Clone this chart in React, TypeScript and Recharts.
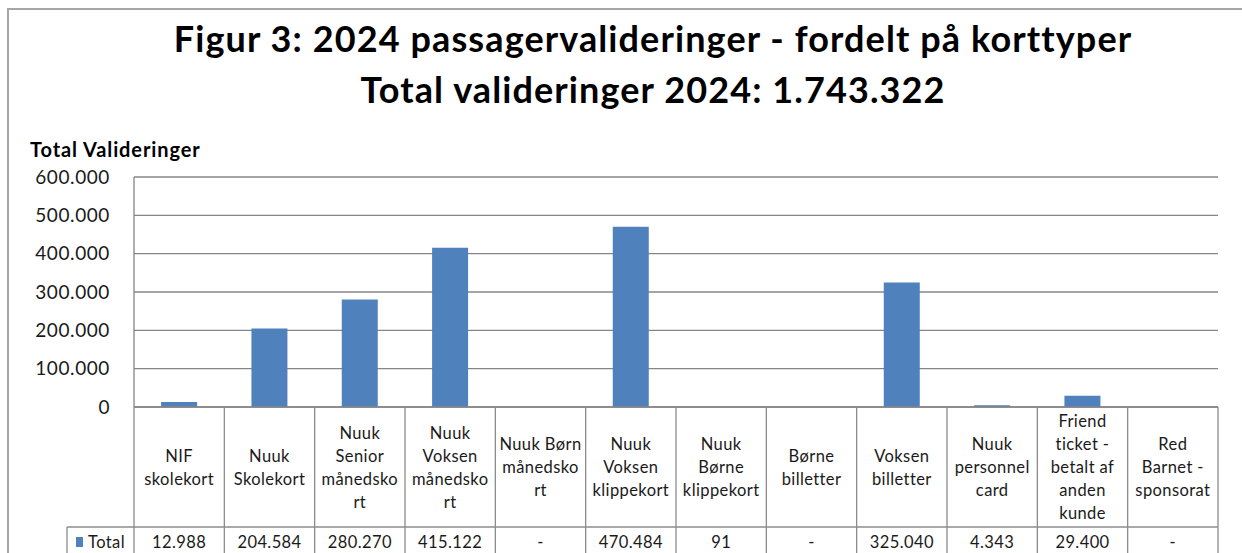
import { BarChart, Bar, XAxis, YAxis, CartesianGrid } from "recharts";

// Kort-typer (linjeskift som i tabellen)
const categoryLines: string[][] = [
  ["NIF", "skolekort"],
  ["Nuuk", "Skolekort"],
  ["Nuuk", "Senior", "månedsko", "rt"],
  ["Nuuk", "Voksen", "månedsko", "rt"],
  ["Nuuk Børn", "månedsko", "rt"],
  ["Nuuk", "Voksen", "klippekort"],
  ["Nuuk", "Børne", "klippekort"],
  ["Børne", "billetter"],
  ["Voksen", "billetter"],
  ["Nuuk", "personnel", "card"],
  ["Friend", "ticket -", "betalt af", "anden", "kunde"],
  ["Red", "Barnet -", "sponsorat"],
];

// Valideringer 2024 (null = "-")
const totals: (number | null)[] = [
  12988, 204584, 280270, 415122, null, 470484, 91, null, 325040, 4343, 29400, null,
];

const yTicks = [0, 100000, 200000, 300000, 400000, 500000, 600000];

const titleLines = [
  "Figur 3: 2024 passagervalideringer - fordelt på korttyper",
  "Total valideringer 2024: 1.743.322",
];
const yTitle = "Total Valideringer";
const seriesName = "Total";

const data = categoryLines.map((lines, i) => ({
  name: lines.join(" "),
  lines,
  total: totals[i],
}));

const W = 1242;
const H = 553;
const FONT = "Lato, 'Open Sans', sans-serif";
const BLUE = "#4F81BD";
const GRID = "#868686";
const TABLE = "#8c8c8c";
const TEXT = "#1a1a1a";
const LEGEND_W = 67;
const HEADER_H = 120;

function fmt(v: number | null): string {
  if (v === null || v === undefined) return "-";
  return String(v).replace(/\B(?=(\d{3})+(?!\d))/g, ".");
}

function TableTick(props: any) {
  const { x, y, payload, index, visibleTicksCount } = props;
  const band = payload.offset ? payload.offset * 2 : 1084 / categoryLines.length;
  const left = x - band / 2;
  const right = x + band / 2;
  const row = data[index];
  const lines = row ? row.lines : [];
  const lh = 23;
  const cy = y + HEADER_H / 2;
  const startY = cy - ((lines.length - 1) * lh) / 2;
  const isLast = index === (visibleTicksCount ?? categoryLines.length) - 1;
  const txt = { fontSize: 16.5, fontFamily: FONT, fill: TEXT, letterSpacing: 0.4 };
  return (
    <g>
      <line x1={left} y1={y} x2={left} y2={H + 20} stroke={TABLE} strokeWidth={1.3} />
      {isLast && <line x1={right} y1={y} x2={right} y2={H + 20} stroke={TABLE} strokeWidth={1.3} />}
      <line x1={left} y1={y + HEADER_H} x2={right} y2={y + HEADER_H} stroke={TABLE} strokeWidth={1.3} />
      {lines.map((l: string, i: number) => (
        <text key={i} x={x} y={startY + i * lh + 6} textAnchor="middle" {...txt}>
          {l}
        </text>
      ))}
      <text x={x} y={y + HEADER_H + 21} textAnchor="middle" {...txt}>
        {row ? fmt(row.total) : ""}
      </text>
      {index === 0 && (
        <g>
          <line x1={left - LEGEND_W} y1={y + HEADER_H} x2={left} y2={y + HEADER_H} stroke={TABLE} strokeWidth={1.3} />
          <line x1={left - LEGEND_W} y1={y + HEADER_H} x2={left - LEGEND_W} y2={H + 20} stroke={TABLE} strokeWidth={1.3} />
          <rect x={left - LEGEND_W + 9} y={y + HEADER_H + 10} width={7} height={10} fill={BLUE} />
          <text x={left - LEGEND_W + 21} y={y + HEADER_H + 21} {...txt}>
            {seriesName}
          </text>
        </g>
      )}
    </g>
  );
}

export default function App() {
  return (
    <div style={{ width: W, height: H, position: "relative", overflow: "hidden", background: "#fff" }}>
      <style>{"body{margin:0}"}</style>
      {/* ramme */}
      <div
        style={{
          position: "absolute",
          left: 7,
          top: 8,
          width: W + 20,
          height: H + 20,
          border: "2px solid #a6a6a6",
        }}
      />
      <div
        style={{
          position: "absolute",
          left: 0,
          width: 1306,
          top: 13,
          textAlign: "center",
          fontFamily: FONT,
          fontWeight: 700,
          fontSize: 36,
          letterSpacing: 1.1,
          lineHeight: "51px",
          color: "#000",
          whiteSpace: "nowrap",
        }}
      >
        <div>{titleLines[0]}</div>
        <div>{titleLines[1]}</div>
      </div>
      <div
        style={{
          position: "absolute",
          left: 30,
          top: 137,
          fontFamily: FONT,
          fontWeight: 700,
          fontSize: 20,
          letterSpacing: 0.9,
          lineHeight: "24px",
          color: "#000",
        }}
      >
        {yTitle}
      </div>
      <div style={{ position: "absolute", left: 0, top: 0 }}>
        <BarChart
          width={W}
          height={H}
          data={data}
          margin={{ top: 177, right: 24, bottom: 0, left: 0 }}
          barCategoryGap="30%"
        >
          <CartesianGrid vertical={false} stroke={GRID} strokeWidth={1.3} />
          <YAxis
            width={134}
            domain={[0, 600000]}
            ticks={yTicks}
            interval={0}
            tickFormatter={(v) => fmt(v)}
            tickSize={0}
            tickMargin={24}
            axisLine={{ stroke: GRID, strokeWidth: 1.3 }}
            tick={{ fontSize: 19, fontFamily: FONT, fill: TEXT, letterSpacing: 0.6 }}
          />
          <XAxis
            dataKey="name"
            height={146}
            interval={0}
            tickSize={0}
            tickMargin={0}
            axisLine={{ stroke: GRID, strokeWidth: 1.3 }}
            tick={<TableTick />}
          />
          <Bar dataKey="total" fill={BLUE} isAnimationActive={false} />
        </BarChart>
      </div>
    </div>
  );
}
